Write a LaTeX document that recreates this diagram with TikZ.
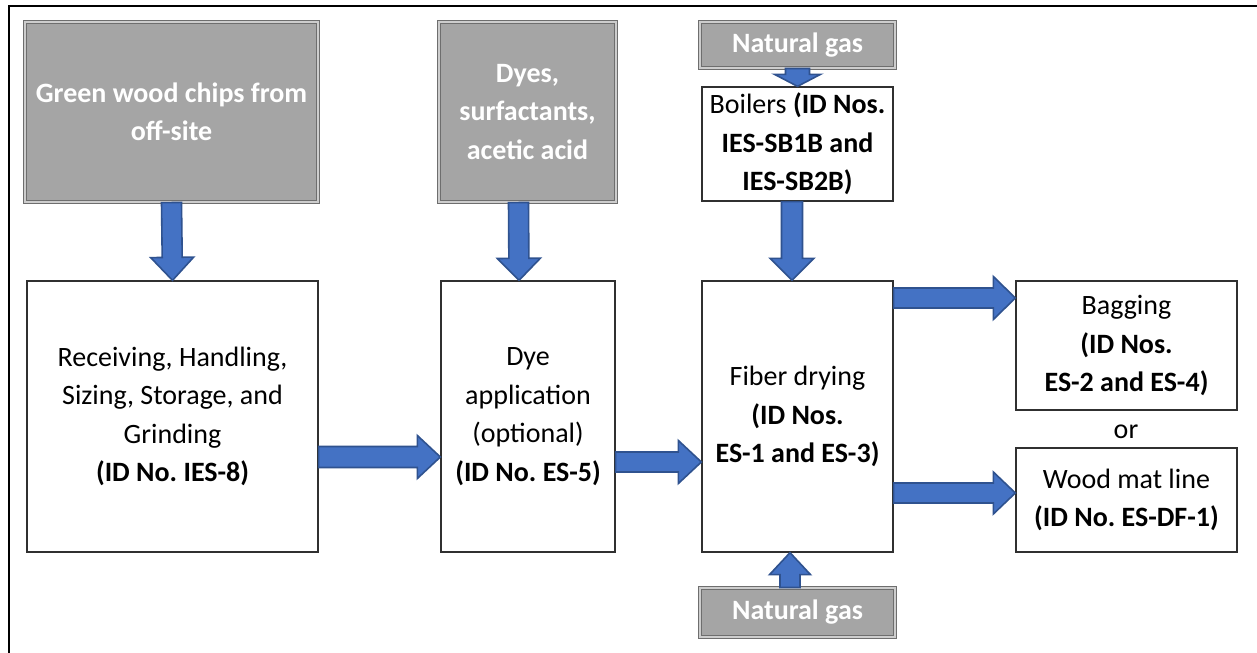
\documentclass[tikz,border=0pt]{standalone}
\usepackage{fontspec}
\setmainfont{Carlito}
\frenchspacing
\usetikzlibrary{calc}

\definecolor{srcgray}{HTML}{A5A5A5}
\definecolor{srcedge}{HTML}{6E6E6E}
\definecolor{arrowfill}{HTML}{4472C4}
\definecolor{arrowedge}{HTML}{2F528F}
\definecolor{boxedge}{HTML}{303030}

\tikzset{
  txt/.style={font=\fontsize{28bp}{38.5bp}\selectfont, align=center},
  source/.style={txt, draw=srcedge, line width=1.1bp, double=srcgray!55!white,
    double distance=1.4bp, fill=srcgray, text=white, font=\fontsize{28bp}{38.5bp}\selectfont\bfseries,
    inner sep=0pt},
  unit/.style={txt, draw=boxedge, line width=1.3bp, fill=white, inner sep=0pt},
  % filled block arrow: #1 shaft half width, #2 head half width, #3 head length
  blockarrow/.style n args={3}{fill=arrowfill, draw=arrowedge, line width=1.6bp,
    line join=miter,
    to path={
      coordinate (bah) at ($(\tikztotarget)!#3!(\tikztostart)$)
      ($(\tikztostart)!#1!90:(\tikztotarget)$)
      -- ($(bah)!#1!90:(\tikztotarget)$)
      -- ($(bah)!#2!90:(\tikztotarget)$)
      -- (\tikztotarget)
      -- ($(bah)!#2!-90:(\tikztotarget)$)
      -- ($(bah)!#1!-90:(\tikztotarget)$)
      -- ($(\tikztostart)!#1!-90:(\tikztotarget)$)
      -- cycle}},
}

\begin{document}
\begin{tikzpicture}[x=1bp, y=-1bp]
\useasboundingbox (0,0) rectangle (1257,653);
\fill[white] (0,0) rectangle (1257,653);

% page frame (top and left edges)
\draw[line width=2.4bp] (9,653) -- (9,6) -- (1257,6);

% raw inputs
\node[source, minimum width=293bp, minimum height=180bp] (chips) at (171.5,112)
  {Green wood chips from\\off-site};
\node[source, minimum width=177bp, minimum height=180bp] (dyes) at (527.5,112)
  {Dyes,\\surfactants,\\acetic acid};
\node[source, minimum width=195bp, minimum height=46bp] (gastop) at (797.5,45)
  {Natural gas};
\node[source, minimum width=195bp, minimum height=49bp] (gasbot) at (797.5,612.5)
  {Natural gas};

% process units
\node[unit, minimum width=191bp, minimum height=114bp] (boil) at (797.5,144)
  {Boilers \textbf{(ID Nos.}\\\textbf{IES-SB1B and}\\\textbf{IES-SB2B)}};
\node[unit, minimum width=291bp, minimum height=271bp] (recv) at (172.5,416.5)
  {Receiving, Handling,\\Sizing, Storage, and\\Grinding\\\textbf{(ID No. IES-8)}};
\node[unit, minimum width=174bp, minimum height=271bp] (dye) at (528,416.5)
  {Dye\\application\\(optional)\\\textbf{(ID No. ES-5)}};
\node[unit, minimum width=191bp, minimum height=271bp] (fib) at (797.5,416.5)
  {Fiber drying\\\textbf{(ID Nos.}\\\textbf{ES-1 and ES-3)}};
\node[unit, minimum width=221bp, minimum height=129bp] (bag) at (1126.5,345.5)
  {Bagging\\\textbf{(ID Nos.}\\\textbf{ES-2 and ES-4)}};
\node[unit, minimum width=221bp, minimum height=104bp] (mat) at (1126.5,500)
  {Wood mat line\\\textbf{(ID No. ES-DF-1)}};
\node[txt, inner sep=0pt] (or) at (1126,432) {or};

% material and fuel flows
\draw[blockarrow={10bp}{21.5bp}{23bp}] (chips.south) to (recv.north);
\draw[blockarrow={10bp}{21.5bp}{22bp}] ([xshift=-9bp]dyes.south) to ([xshift=-9bp]dye.north);
\draw[blockarrow={12bp}{23bp}{12bp}] (gastop.south) to (boil.north);
\draw[blockarrow={10.5bp}{22bp}{22bp}] ([xshift=-5.5bp]boil.south) to ([xshift=-5.5bp]fib.north);
\draw[blockarrow={10bp}{20.5bp}{22bp}] ([xshift=-7.5bp]gasbot.north) to ([xshift=-7.5bp]fib.south);
\draw[blockarrow={10.5bp}{21.5bp}{23bp}] ([yshift=-40.5bp]recv.east) to ([yshift=-40.5bp]dye.west);
\draw[blockarrow={10bp}{21.5bp}{23bp}] ([yshift=-45.5bp]dye.east) to ([yshift=-45.5bp]fib.west);
\draw[blockarrow={10bp}{21.5bp}{22bp}] ([yshift=118.5bp]fib.east) coordinate (fb) to (fb -| bag.west);
\draw[blockarrow={10bp}{21bp}{22bp}] ([yshift=-76.5bp]fib.east) coordinate (fm) to (fm -| mat.west);
\end{tikzpicture}
\end{document}
